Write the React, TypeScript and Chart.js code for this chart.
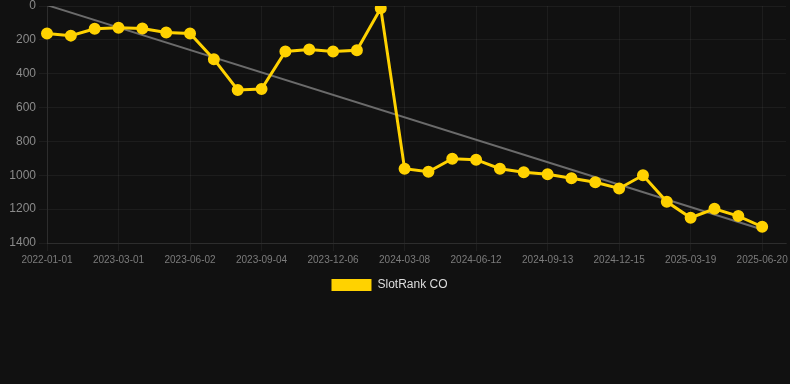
import React, { useEffect, useRef } from "react";
import { Chart, registerables } from "chart.js";

Chart.register(...registerables);

const labels: string[] = [
  "2022-01-01", "2023-01-01", "2023-01-30", "2023-03-01", "2023-04-01", "2023-05-02",
  "2023-06-02", "2023-07-03", "2023-08-03", "2023-09-04", "2023-10-05", "2023-11-05",
  "2023-12-06", "2024-01-06", "2024-02-06", "2024-03-08", "2024-04-09", "2024-05-11",
  "2024-06-12", "2024-07-13", "2024-08-13", "2024-09-13", "2024-10-14", "2024-11-14",
  "2024-12-15", "2025-01-15", "2025-02-16", "2025-03-19", "2025-04-19", "2025-05-20",
  "2025-06-20", "",
];

const rankValues: (number | null)[] = [
  163, 175, 135, 128, 133, 157, 163, 314, 496, 490, 269, 257, 269, 261, 14,
  961, 979, 902, 908, 961, 982, 994, 1018, 1041, 1078, 1000, 1157, 1251, 1198, 1241, 1304,
  null,
];

const trendValues: (number | null)[] = [
  -5, null, null, null, null, null, null, null, null, null, null, null, null, null, null,
  null, null, null, null, null, null, null, null, null, null, null, null, null, null, null, 1320,
  null,
];

const yTicks = { min: 0, max: 1400, step: 200 };

const FONT = "Arial, 'Liberation Sans', sans-serif";

export default function App() {
  const ref = useRef<HTMLCanvasElement | null>(null);

  useEffect(() => {
    const canvas = ref.current;
    if (!canvas) return;
    const chart = new Chart(canvas, {
      type: "line",
      data: {
        labels,
        datasets: [
          {
            label: "SlotRank CO",
            data: rankValues,
            borderColor: "#ffd200",
            backgroundColor: "#ffd200",
            borderWidth: 3,
            pointRadius: 4.5,
            pointBackgroundColor: "#ffd200",
            pointBorderColor: "#ffd200",
            tension: 0,
            order: 1,
          },
          {
            label: "trend",
            data: trendValues,
            borderColor: "#6b6b6b",
            backgroundColor: "#6b6b6b",
            borderWidth: 2,
            pointRadius: 0,
            spanGaps: true,
            order: 2,
          },
        ],
      },
      options: {
        animation: false,
        responsive: true,
        maintainAspectRatio: false,
        layout: { autoPadding: false, padding: { left: -11, right: 0, top: 0, bottom: 83 } },
        plugins: {
          legend: {
            position: "bottom",
            labels: {
              color: "#dddddd",
              font: { size: 12, family: FONT },
              boxWidth: 40,
              boxHeight: 12,
              filter: (item) => item.text === "SlotRank CO",
              generateLabels: (c) => {
                const items = Chart.defaults.plugins.legend.labels.generateLabels(c);
                return items.map((it) => ({ ...it, lineWidth: 0 }));
              },
            },
          },
          tooltip: { enabled: false },
        },
        scales: {
          x: {
            grid: { color: "rgba(255,255,255,0.05)" },
            border: { color: "rgba(255,255,255,0.08)" },
            afterFit: (scale: any) => {
              scale.paddingRight = 4;
            },
            ticks: {
              color: "#7c7c7c",
              maxRotation: 0,
              autoSkip: true,
              font: { size: 10, family: FONT },
            },
          },
          y: {
            reverse: true,
            min: yTicks.min,
            max: yTicks.max,
            grid: { color: "rgba(255,255,255,0.05)" },
            border: { color: "rgba(255,255,255,0.08)" },
            afterFit: (scale: any) => {
              scale.width = 58;
              scale.paddingTop = 6;
            },
            ticks: {
              stepSize: yTicks.step,
              color: "#8a8a8a",
              font: { size: 12, family: FONT, lineHeight: 1 },
              callback: (v) => String(v),
            },
          },
        },
      },
    });
    return () => chart.destroy();
  }, []);

  return (
    <div style={{ width: 790, height: 384, background: "#111111", position: "relative" }}>
      <style>{"html,body{margin:0;padding:0;background:#111111;overflow:hidden}"}</style>
      <canvas ref={ref} />
    </div>
  );
}
